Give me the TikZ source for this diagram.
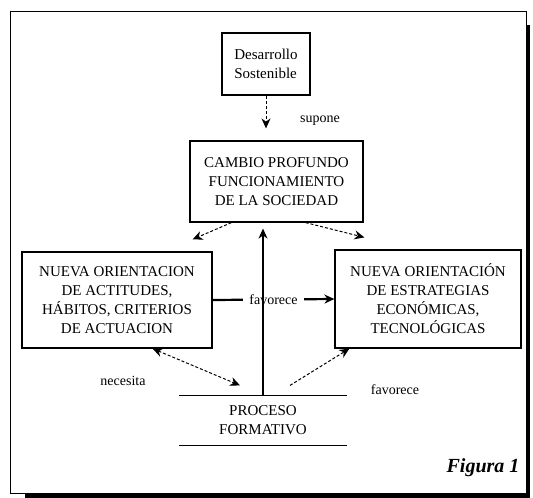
\documentclass[tikz,border=0pt]{standalone}
\usepackage{fontspec}
\setmainfont{Liberation Serif}
\usetikzlibrary{arrows,arrows.meta,positioning}
\tikzstyle{arrow} = [line width=1.3pt,-{Stealth[length=10pt,width=9pt]}]
\tikzstyle{dasharrow} = [line width=1pt,-{Stealth[length=10pt,width=9pt]},dash pattern=on 3pt off 2pt]
\tikzstyle{ideabox} = [rectangle, draw, line width=1.2pt, align=center, inner sep=2pt, font=\fontsize{15}{19}\selectfont]
\tikzstyle{linklabel} = [font=\fontsize{14}{16}\selectfont, inner sep=2pt]

\begin{document}
\begin{tikzpicture}[x=1pt,y=-1pt]
\useasboundingbox (0,0) rectangle (533,498);
% Frame with shadow
\fill (25,493) rectangle (530,498);
\fill (526,25) rectangle (530,498);
\draw[line width=1pt] (10,11) rectangle (526,493);

% Boxes
\node[ideabox, align=left, minimum width=88pt, minimum height=62pt] (desarrollo) at (266,64) {Desarrollo\\Sostenible};
\node[ideabox, minimum width=173pt, minimum height=81pt] (cambio) at (276.5,181.5) {CAMBIO PROFUNDO\\FUNCIONAMIENTO\\DE LA SOCIEDAD};
\node[ideabox, minimum width=190pt, minimum height=96pt] (actitudes) at (117,300) {NUEVA ORIENTACION\\DE ACTITUDES,\\HÁBITOS, CRITERIOS\\DE ACTUACION};
\node[ideabox, minimum width=186pt, minimum height=98pt] (estrategias) at (428,299) {NUEVA ORIENTACIÓN\\DE ESTRATEGIAS\\ECONÓMICAS,\\TECNOLÓGICAS};
\node[ideabox, draw=none, minimum width=166pt, minimum height=49pt] (proceso) at (263,420.5) {PROCESO\\FORMATIVO};
\draw[line width=1.2pt] (proceso.north west) -- (proceso.north east);
\draw[line width=1.2pt] (proceso.south west) -- (proceso.south east);

% Labels
\node[linklabel] (supone) at (320,121) {supone};
\node[linklabel] (necesita) at (123,381) {necesita};
\node[linklabel] (favorece2) at (395,390) {favorece};

% Connections
\draw[dasharrow, shorten >=12pt] (desarrollo.south) -- (desarrollo.south |- cambio.north);
\draw[dasharrow] ([xshift=42pt]cambio.south west) -- ([xshift=-20pt,yshift=12pt]actitudes.north east);
\draw[dasharrow] ([xshift=-58pt]cambio.south east) -- ([xshift=30pt,yshift=12pt]estrategias.north west);
\draw[arrow, line width=2.2pt] (actitudes.east) -- node[linklabel, fill=white, inner xsep=6pt] (favorece1) {favorece} (estrategias.west);
\draw[arrow, shorten >=6pt] (proceso.north) -- (proceso.north |- cambio.south);
\draw[dasharrow, {Stealth[length=10pt,width=9pt]}-{Stealth[length=10pt,width=9pt]}] ([xshift=-60pt]actitudes.south east) -- ([xshift=-23pt,yshift=10pt]proceso.north);
\draw[dasharrow] ([xshift=27pt,yshift=10pt]proceso.north) -- ([xshift=15pt]estrategias.south west);

% Caption
\node[font=\fontsize{20}{22}\selectfont\bfseries\itshape] (figura) at (483,468) {Figura 1};
\end{tikzpicture}
\end{document}
